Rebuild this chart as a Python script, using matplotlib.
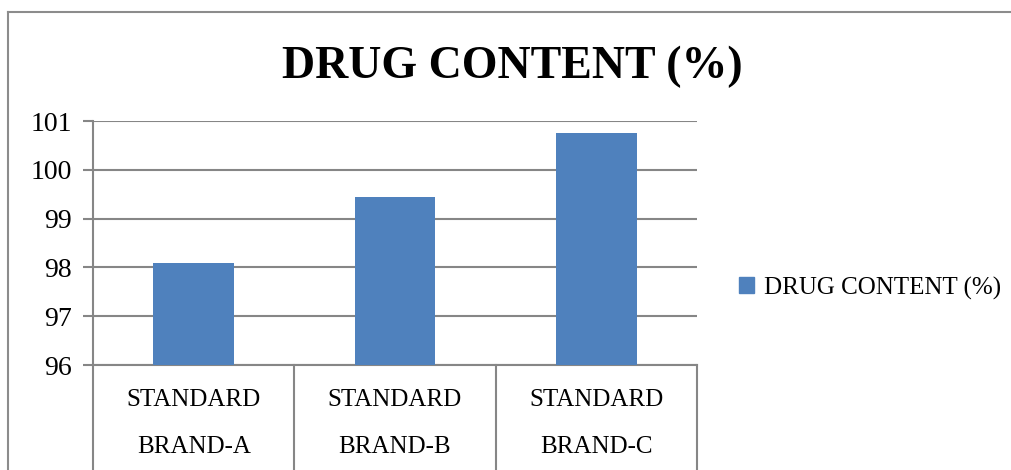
import matplotlib.pyplot as plt
from matplotlib.lines import Line2D
from matplotlib.patches import Patch

brands = ['BRAND-A', 'BRAND-B', 'BRAND-C']
brand_prefix = 'STANDARD'
drug_content = [98.1, 99.45, 100.75]
series_name = 'DRUG CONTENT (%)'
y_ticks = [96, 97, 98, 99, 100, 101]

bar_color = '#4F81BD'
grid_color = '#868686'
font = 'Liberation Serif'

fig = plt.figure(figsize=(10.12, 4.7), dpi=100)
W, H = 1012, 470

# outer chart border (only left and top visible)
fig.add_artist(Line2D([8 / W, 8 / W], [0, 1 - 12 / H], color='#8c8c8c', lw=1.5))
fig.add_artist(Line2D([8 / W, 1], [1 - 12 / H, 1 - 12 / H], color='#8c8c8c', lw=1.5))

ax = fig.add_axes([93 / W, 1 - 365 / H, (697 - 93) / W, (365 - 121) / H])
x = range(len(brands))
ax.bar(x, [v - 96 for v in drug_content], bottom=96, width=0.4,
       color=bar_color, zorder=3)

ax.set_xlim(-0.5, len(brands) - 0.5)
ax.set_ylim(96, 101)
ax.set_yticks(y_ticks)
ax.set_yticklabels([str(t) for t in y_ticks], fontsize=20, family=font)
ax.tick_params(axis='y', length=7, width=1.5, color=grid_color, pad=8)
ax.tick_params(axis='x', length=0, labelbottom=False)
ax.yaxis.grid(True, color=grid_color, lw=1.5, zorder=0)
for s in ['top', 'right']:
    ax.spines[s].set_visible(False)
for s in ['left', 'bottom']:
    ax.spines[s].set_color(grid_color)
    ax.spines[s].set_linewidth(1.5)

# category separators below the axis
trans = ax.get_xaxis_transform()
for b in [-0.5, 0.5, 1.5, 2.5]:
    ax.add_line(Line2D([b, b], [0, -0.45], transform=trans, color=grid_color,
                       lw=1.5, clip_on=False))
for i, lab in enumerate(brands):
    ax.text(i, -35 / 244, brand_prefix, transform=trans, ha='center',
            va='center', fontsize=18, family=font)
    ax.text(i, -82 / 244, lab, transform=trans, ha='center',
            va='center', fontsize=18, family=font)

fig.text(512 / W, 1 - 67 / H, series_name, ha='center', va='center',
         fontsize=33, fontweight='bold', family=font)

fig.legend(handles=[Patch(color=bar_color, label=series_name)],
           loc='center left', bbox_to_anchor=(717 / W, 1 - 288 / H),
           frameon=False, prop={'family': font, 'size': 18},
           handlelength=0.6, handleheight=0.6, handletextpad=0.4)

fig.savefig('out.png', dpi=100)
